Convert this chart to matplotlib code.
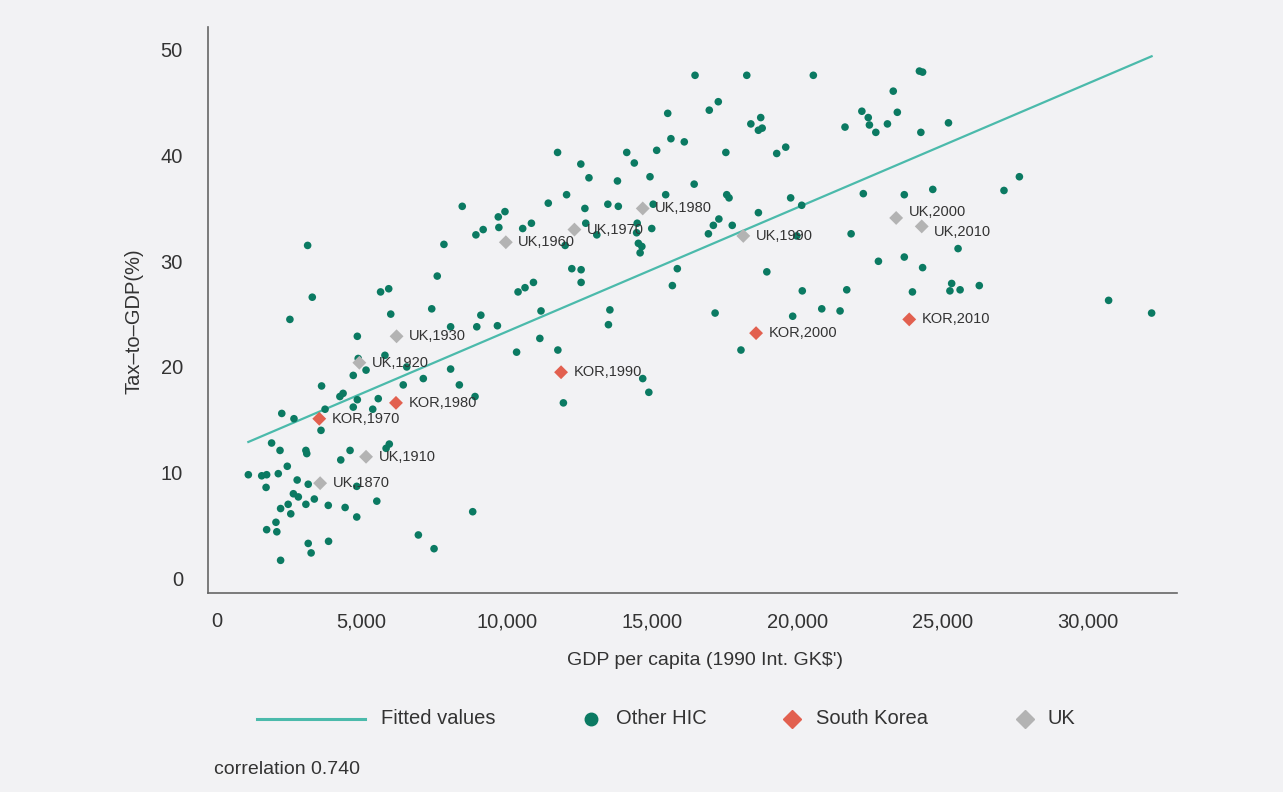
import matplotlib
matplotlib.use("Agg")
import matplotlib.pyplot as plt
from matplotlib.lines import Line2D
from matplotlib.ticker import FuncFormatter

plt.rcParams['font.family'] = ['Liberation Sans', 'DejaVu Sans']

# ---------------- data ----------------
other_x = [2530, 6000, 7410, 9100, 8060, 8960, 9670, 4850, 4880, 5800, 10330, 5150, 4710, 6550,
           8060, 7120, 6430, 8360, 3620, 4250, 4360, 4850, 5570, 4710, 5380, 8900, 3740, 2250,
           2670, 3600, 1900, 2190, 3080, 3110, 4600, 5950, 5840, 4280, 1100, 1560, 1730, 2130,
           2440, 1710, 2780, 3160, 4830, 2650, 2820, 3370, 2470, 2210, 2560, 3080, 3850, 4430,
           5520, 4830, 2050, 1730, 2080, 3160, 3260, 3860, 2210, 6950, 7490, 8820, 8460, 9700,
           9930, 8930, 9180, 9720, 3140, 7830, 7600, 3300, 5650, 5930, 10540, 10840, 11420, 10380,
           10620, 10910, 11170, 11130, 11750, 16470, 18250, 20540, 24190, 24300, 23290, 17270,
           16960, 15530, 22210, 22430, 23430, 18390, 18730, 18650, 18780, 21630, 22470, 22690,
           23090, 24240, 25190, 15640, 16100, 11740, 14120, 15150, 17530, 19280, 19590, 12540,
           14380, 12820, 13800, 14920, 16440, 12050, 12680, 13470, 13830, 15460, 15030, 17560,
           17640, 19760, 20140, 18650, 22260, 23670, 24650, 12710, 14480, 14980, 14460, 14520,
           14640, 14580, 13090, 17100, 17290, 17750, 16930, 19970, 21840, 12000, 12230, 12550,
           12550, 15860, 15690, 18940, 22780, 23670, 24300, 20160, 21690, 20830, 21460, 19830,
           23950, 17160, 13540, 13490, 18050, 14670, 14880, 11940, 27630, 27100, 25520, 25300,
           25240, 25590, 26250, 30700, 32180]
other_y = [24.5, 25.0, 25.5, 24.9, 23.8, 23.8, 23.9, 22.9, 20.8, 21.1, 21.4, 19.7, 19.2, 20.0,
           19.8, 18.9, 18.3, 18.3, 18.2, 17.2, 17.5, 16.9, 17.0, 16.2, 16.0, 17.2, 16.0, 15.6,
           15.1, 14.0, 12.8, 12.1, 12.1, 11.8, 12.1, 12.7, 12.3, 11.2, 9.8, 9.7, 9.8, 9.9,
           10.6, 8.6, 9.3, 8.9, 8.7, 8.0, 7.7, 7.5, 7.0, 6.6, 6.1, 7.0, 6.9, 6.7,
           7.3, 5.8, 5.3, 4.6, 4.4, 3.3, 2.4, 3.5, 1.7, 4.1, 2.8, 6.3, 35.2, 34.2,
           34.7, 32.5, 33.0, 33.2, 31.5, 31.6, 28.6, 26.6, 27.1, 27.4, 33.1, 33.6, 35.5, 27.1,
           27.5, 28.0, 25.3, 22.7, 21.6, 47.6, 47.6, 47.6, 48.0, 47.9, 46.1, 45.1,
           44.3, 44.0, 44.2, 43.6, 44.1, 43.0, 43.6, 42.4, 42.6, 42.7, 42.9, 42.2,
           43.0, 42.2, 43.1, 41.6, 41.3, 40.3, 40.3, 40.5, 40.3, 40.2, 40.8, 39.2,
           39.3, 37.9, 37.6, 38.0, 37.3, 36.3, 35.0, 35.4, 35.2, 36.3, 35.4, 36.3,
           36.0, 36.0, 35.3, 34.6, 36.4, 36.3, 36.8, 33.6, 33.6, 33.1, 32.7, 31.7,
           31.4, 30.8, 32.5, 33.4, 34.0, 33.4, 32.6, 32.4, 32.6, 31.5, 29.3, 29.2,
           28.0, 29.3, 27.7, 29.0, 30.0, 30.4, 29.4, 27.2, 27.3, 25.5, 25.3, 24.8,
           27.1, 25.1, 25.4, 24.0, 21.6, 18.9, 17.6, 16.6, 38.0, 36.7, 31.2, 27.9,
           27.2, 27.3, 27.7, 26.3, 25.1]

kor_labels = ["KOR,1970", "KOR,1980", "KOR,1990", "KOR,2000", "KOR,2010"]
kor_x = [3540, 6180, 11860, 18570, 23840]
kor_y = [15.1, 16.6, 19.5, 23.2, 24.5]

uk_labels = ["UK,1870", "UK,1910", "UK,1920", "UK,1930", "UK,1960", "UK,1970",
             "UK,1980", "UK,1990", "UK,2000", "UK,2010"]
uk_x = [3570, 5150, 4920, 6200, 9960, 12320, 14670, 18130, 23390, 24270]
uk_y = [9.0, 11.5, 20.4, 22.9, 31.8, 33.0, 35.0, 32.4, 34.1, 33.3]

fit_x = [1100, 32180]
fit_y = [12.9, 49.4]

x_ticks = [0, 5000, 10000, 15000, 20000, 25000, 30000]
y_ticks = [0, 10, 20, 30, 40, 50]
correlation_text = "correlation 0.740"

# ---------------- style ----------------
BG = '#f2f2f4'
GREEN = '#0b7a62'
RED = '#e2604f'
GREY = '#b3b3b3'
LINE = '#4bbaab'
TXT = '#333333'

fig = plt.figure(figsize=(12.83, 7.92), dpi=100, facecolor=BG)
ax = fig.add_axes([0.1621, 0.2513, 0.7553, 0.7146], facecolor=BG)

ax.plot(fit_x, fit_y, color=LINE, lw=1.6, zorder=2)
ax.scatter(other_x, other_y, s=30, color=GREEN, edgecolors='none', zorder=3)
ax.scatter(kor_x, kor_y, s=50, marker='D', color=RED, edgecolors='none', zorder=4)
ax.scatter(uk_x, uk_y, s=50, marker='D', color=GREY, edgecolors='none', zorder=4)

label_dy = {'UK,2000': 4, 'UK,2010': -4}
for lab, x, y in list(zip(kor_labels, kor_x, kor_y)) + list(zip(uk_labels, uk_x, uk_y)):
    ax.annotate(lab, (x, y), xytext=(9, label_dy.get(lab, 0)), textcoords='offset points',
                ha='left', va='center', fontsize=10.5, color=TXT, zorder=5)

ax.set_xlim(-289, 33054)
ax.set_ylim(-1.39, 52.17)
ax.set_xticks(x_ticks)
ax.set_yticks(y_ticks)
ax.xaxis.set_major_formatter(FuncFormatter(lambda v, p: f"{int(v):,}"))
ax.tick_params(axis='both', length=0, labelsize=14.5, labelcolor=TXT)
ax.tick_params(axis='y', pad=18)
ax.tick_params(axis='x', pad=14)
for s in ['top', 'right']:
    ax.spines[s].set_visible(False)
for s in ['left', 'bottom']:
    ax.spines[s].set_color('#666666')
    ax.spines[s].set_linewidth(1.2)

ax.set_xlabel("GDP per capita (1990 Int. GK$')", fontsize=14, color=TXT)
ax.xaxis.set_label_coords(0.513, -0.104)
ax.set_ylabel("Tax\u2013to\u2013GDP(%)", fontsize=14.5, color=TXT)
ax.yaxis.set_label_coords(-0.067, 0.48)

# ---------------- legend (figure coordinates) ----------------
ly = 0.0922
fig.add_artist(Line2D([0.2, 0.2845], [ly, ly], color=LINE, lw=2.2, transform=fig.transFigure))
fig.text(0.297, ly, "Fitted values", fontsize=14.5, color=TXT, va='center', ha='left')
fig.add_artist(Line2D([0.4606], [ly], marker='o', ms=9, color=GREEN, lw=0, transform=fig.transFigure))
fig.text(0.4798, ly, "Other HIC", fontsize=14.5, color=TXT, va='center', ha='left')
fig.add_artist(Line2D([0.6173], [ly], marker='D', ms=9, color=RED, lw=0, transform=fig.transFigure))
fig.text(0.636, ly, "South Korea", fontsize=14.5, color=TXT, va='center', ha='left')
fig.add_artist(Line2D([0.7989], [ly], marker='D', ms=9, color=GREY, lw=0, transform=fig.transFigure))
fig.text(0.8161, ly, "UK", fontsize=14.5, color=TXT, va='center', ha='left')

fig.text(0.1668, 0.0278, correlation_text, fontsize=14, color=TXT, va='center', ha='left')

fig.savefig("out.png", dpi=100, facecolor=BG)
